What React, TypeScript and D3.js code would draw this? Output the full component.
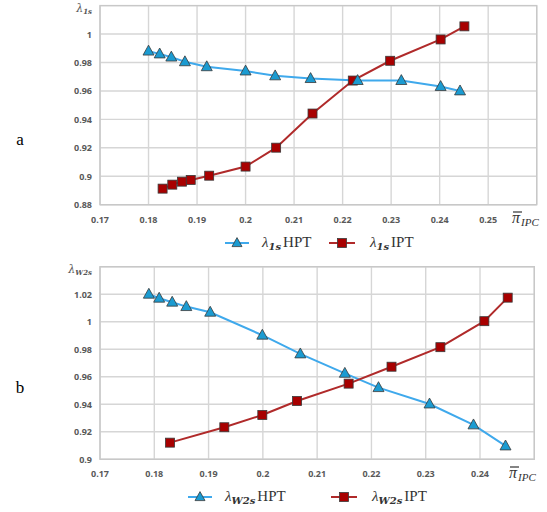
import React from "react";
import * as d3 from "d3";

const xTicksA = [0.17, 0.18, 0.19, 0.2, 0.21, 0.22, 0.23, 0.24, 0.25];
const yTicksA = [0.88, 0.9, 0.92, 0.94, 0.96, 0.98, 1];
const xTicksB = [0.17, 0.18, 0.19, 0.2, 0.21, 0.22, 0.23, 0.24];
const yTicksB = [0.9, 0.92, 0.94, 0.96, 0.98, 1, 1.02];

const aHptX = [0.18, 0.1823, 0.1847, 0.1875, 0.192, 0.2, 0.2061, 0.2134, 0.2231, 0.2321, 0.2402, 0.2442];
const aHptY = [0.988, 0.986, 0.9838, 0.9805, 0.977, 0.974, 0.9706, 0.9687, 0.9673, 0.9673, 0.9631, 0.96];
const aIptX = [0.1829, 0.1849, 0.1869, 0.1887, 0.1925, 0.2, 0.2063, 0.2138, 0.2221, 0.2298, 0.2402, 0.2451];
const aIptY = [0.8913, 0.8941, 0.8962, 0.8974, 0.9004, 0.9068, 0.9201, 0.9441, 0.9673, 0.9812, 0.9962, 1.0054];

const bHptX = [0.179, 0.1809, 0.1833, 0.1859, 0.1903, 0.1999, 0.2069, 0.2151, 0.2213, 0.2307, 0.2388, 0.2447];
const bHptY = [1.02, 1.0171, 1.0142, 1.011, 1.0069, 0.9902, 0.9766, 0.9625, 0.9521, 0.9402, 0.925, 0.9097];
const bIptX = [0.1829, 0.1929, 0.1999, 0.2063, 0.2158, 0.2237, 0.2327, 0.2408, 0.2451];
const bIptY = [0.9121, 0.9233, 0.9322, 0.9424, 0.955, 0.9673, 0.9815, 1.0004, 1.0175];

const BLUE_LINE = "#3fa9ec";
const BLUE_FILL = "#1b9bd1";
const RED_LINE = "#b02a2a";
const RED_FILL = "#a80000";
const MARK_STROKE = "#3a3a3a";
const GRID = "#d6d6d6";
const TICK = "#595959";

const tri = (cx: number, cy: number, s = 11) => {
  const h = s * 0.9;
  return `M${cx},${cy - h * 0.6}L${cx + s / 2},${cy + h * 0.4}L${cx - s / 2},${cy + h * 0.4}Z`;
};

function Panel(props: any) {
  const { x0, x1, y0, y1, xDom, yDom, xTicks, yTicks, hpt, ipt, letter, letterY, sub, legY, legHX, legIX, piX, piY } = props;
  const xs = d3.scaleLinear().domain(xDom).range([x0, x1]);
  const ys = d3.scaleLinear().domain(yDom).range([y1, y0]);
  const line = d3.line<[number, number]>().x((d) => xs(d[0])).y((d) => ys(d[1]));
  const hptPts: [number, number][] = hpt[0].map((v: number, i: number) => [v, hpt[1][i]]);
  const iptPts: [number, number][] = ipt[0].map((v: number, i: number) => [v, ipt[1][i]]);
  const gridX = d3.range(xDom[0], xDom[1] + 1e-9, 0.01);
  const gridY = d3.range(yDom[0], yDom[1] + 1e-9, 0.02);
  const fmt = (v: number) => String(+v.toFixed(2));
  const sq = 9;
  return (
    <g>
      <text x={20} y={letterY} fontFamily="Liberation Serif, serif" fontSize={17} textAnchor="middle">{letter}</text>
      {gridX.map((v: number, i: number) => (
        <line key={"gx" + i} x1={xs(v)} x2={xs(v)} y1={y0} y2={y1} stroke={GRID} strokeWidth={1.4} />
      ))}
      {gridY.map((v: number, i: number) => (
        <line key={"gy" + i} x1={x0} x2={x1} y1={ys(v)} y2={ys(v)} stroke={GRID} strokeWidth={1.4} />
      ))}
      <rect x={x0} y={y0} width={x1 - x0} height={y1 - y0} fill="none" stroke="#c8c8c8" strokeWidth={1.4} />
      {xTicks.map((v: number, i: number) => (
        <text key={"xt" + i} x={xs(v)} y={y1 + 18} textAnchor="middle" fontFamily="Open Sans, sans-serif" fontWeight="bold" fontSize={9} fill={TICK}>{fmt(v)}</text>
      ))}
      {yTicks.map((v: number, i: number) => (
        <text key={"yt" + i} x={x0 - 8} y={ys(v) + 3.5} textAnchor="end" fontFamily="Open Sans, sans-serif" fontWeight="bold" fontSize={9} fill={TICK}>{fmt(v)}</text>
      ))}
      <text x={x0 - 8} y={y0 + 6} textAnchor="end" fontFamily="DejaVu Serif, serif" fontSize={11} fontStyle="italic" fill="#555">
        λ<tspan fontSize={7} dy={2} fontWeight="bold">{sub}</tspan>
      </text>
      <g>
        <line x1={piX + 1} x2={piX + 10} y1={piY - 11} y2={piY - 11} stroke="#333" strokeWidth={1.2} />
        <text x={piX} y={piY} fontFamily="Liberation Serif, serif" fontSize={16} fontStyle="italic" fill="#333">
          π<tspan fontSize={11} dy={3} dx={1}>IPC</tspan>
        </text>
      </g>
      <path d={line(hptPts) || ""} fill="none" stroke={BLUE_LINE} strokeWidth={2} />
      <path d={line(iptPts) || ""} fill="none" stroke={RED_LINE} strokeWidth={2} />
      {iptPts.map((p, i) => (
        <rect key={"ip" + i} x={xs(p[0]) - sq / 2} y={ys(p[1]) - sq / 2} width={sq} height={sq} fill={RED_FILL} stroke={MARK_STROKE} strokeWidth={0.8} />
      ))}
      {hptPts.map((p, i) => (
        <path key={"hp" + i} d={tri(xs(p[0]), ys(p[1]))} fill={BLUE_FILL} stroke={MARK_STROKE} strokeWidth={0.8} />
      ))}
      <line x1={legHX - 12} x2={legHX + 12} y1={legY} y2={legY} stroke={BLUE_LINE} strokeWidth={2} />
      <path d={tri(legHX, legY, 10)} fill={BLUE_FILL} stroke={MARK_STROKE} strokeWidth={0.8} />
      <text x={legHX + 25} y={legY + 4} fontFamily="Liberation Serif, serif" fontSize={15} fill="#333">
        <tspan fontStyle="italic">λ</tspan><tspan fontSize={10} dy={3} fontStyle="italic" fontWeight="bold" fontFamily="DejaVu Serif, serif">{sub}</tspan><tspan dy={-3} dx={2}>HPT</tspan>
      </text>
      <line x1={legIX - 13} x2={legIX + 13} y1={legY} y2={legY} stroke={RED_LINE} strokeWidth={2} />
      <rect x={legIX - 4.5} y={legY - 4.5} width={9} height={9} fill={RED_FILL} stroke={MARK_STROKE} strokeWidth={0.8} />
      <text x={legIX + 28} y={legY + 4} fontFamily="Liberation Serif, serif" fontSize={15} fill="#333">
        <tspan fontStyle="italic">λ</tspan><tspan fontSize={10} dy={3} fontStyle="italic" fontWeight="bold" fontFamily="DejaVu Serif, serif">{sub}</tspan><tspan dy={-3} dx={2}>IPT</tspan>
      </text>
    </g>
  );
}

export default function App() {
  return (
    <svg width={547} height={512} style={{ position: "absolute", left: 0, top: 0, background: "#fff" }}>
      <Panel x0={100} x1={536.7} y0={5.6} y1={204.7} xDom={[0.17, 0.26]} yDom={[0.88, 1.02]}
        xTicks={xTicksA} yTicks={yTicksA} hpt={[aHptX, aHptY]} ipt={[aIptX, aIptY]}
        letter="a" letterY={145} sub="1s" legY={243} legHX={237} legIX={342} piX={512} piY={223} />
      <Panel x0={100} x1={534.3} y0={266.7} y1={459.3} xDom={[0.17, 0.25]} yDom={[0.9, 1.04]}
        xTicks={xTicksB} yTicks={yTicksB} hpt={[bHptX, bHptY]} ipt={[bIptX, bIptY]}
        letter="b" letterY={393} sub="W2s" legY={497} legHX={200} legIX={344} piX={509} piY={478} />
    </svg>
  );
}
